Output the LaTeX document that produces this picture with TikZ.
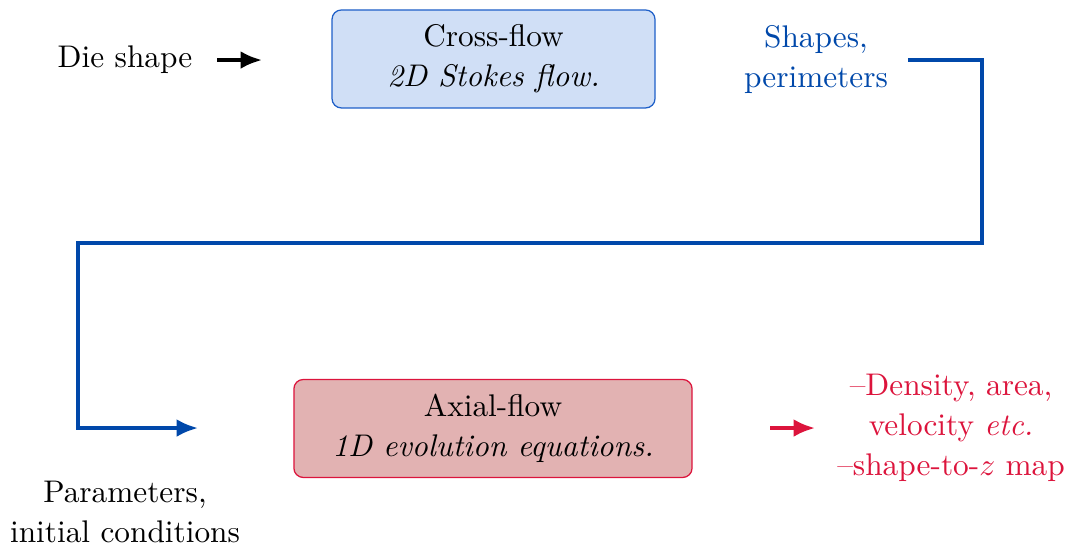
\documentclass[tikz,border=0pt]{standalone}
\usetikzlibrary{arrows.meta}
\linespread{1.06}

\definecolor{flowblue}{RGB}{0,72,170}
\definecolor{boxblue}{RGB}{208,223,246}
\definecolor{edgeblue}{RGB}{30,95,200}
\definecolor{flowred}{RGB}{220,20,60}
\definecolor{boxred}{RGB}{226,178,178}

\tikzset{
	stage/.style = {rectangle, rounded corners = 3pt, align = center, minimum height = 1.1cm},
	flowarrow/.style = {very thick, -{Latex[length = 2.4mm, width = 2mm]}},
}

\begin{document}
\begin{tikzpicture}
	\useasboundingbox (0, 0) rectangle (12, -6.197);
	
	% Nodes
	\node (die) at (1.403, -0.674) {Die shape};
	\node[stage, draw = edgeblue, fill = boxblue, minimum width = 3.626cm] (cross) at (5.54, -0.662) {Cross-flow\\ \textit{2D Stokes flow.}};
	\node[align = center, text = flowblue] (shapes) at (9.16, -0.67) {Shapes,\\ perimeters};
	\node[stage, draw = flowred, fill = boxred, minimum width = 4.47cm] (axial) at (5.534, -4.81) {Axial-flow\\ \textit{1D evolution equations.}};
	\node[align = center] (params) at (1.403, -5.75) {Parameters,\\ initial conditions};
	\node[align = center, text = flowred] (output) at (10.676, -4.80) {--Density, area,\\ velocity \textit{etc.}\\ --shape-to-$z$ map};
	
	% Connector ends
	\coordinate (diein) at (2.436, -0.674);
	\coordinate (dieout) at (2.941, -0.674);
	\coordinate (shapesout) at (10.19, -0.674);
	\coordinate (turnright) at (11.02, -2.728);
	\coordinate (turnleft) at (0.876, -4.805);
	\coordinate (axin) at (2.223, -4.805);
	\coordinate (redin) at (8.644, -4.805);
	\coordinate (redout) at (9.149, -4.805);
	
	% Edges
	\draw[flowarrow] (diein) -- (dieout);
	\draw[flowarrow, color = flowblue] (shapesout) -| (turnright) -| (turnleft) -- (axin);
	\draw[flowarrow, color = flowred] (redin) -- (redout);
\end{tikzpicture}
\end{document}
